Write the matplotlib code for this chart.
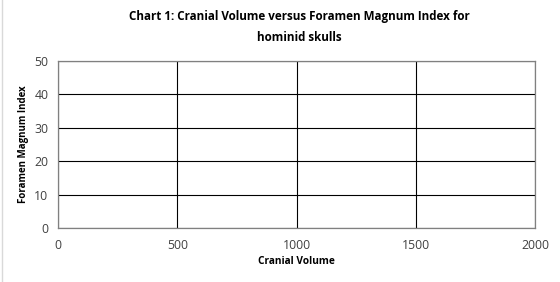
import matplotlib.pyplot as plt

# the chart is a blank template: no points plotted yet
cranial_volume = []
foramen_index = []
x_ticks = [0, 500, 1000, 1500, 2000]
y_ticks = [0, 10, 20, 30, 40, 50]

plt.rcParams['font.family'] = ['Open Sans', 'DejaVu Sans']

fig = plt.figure(figsize=(5.6, 2.82), dpi=100)
ax = fig.add_axes([0.1036, 0.1915, 0.8518, 0.5922])
ax.scatter(cranial_volume, foramen_index, color='#4472C4')

ax.set_xlim(0, 2000)
ax.set_ylim(0, 50)
ax.set_xticks(x_ticks)
ax.set_yticks(y_ticks)
ax.grid(True, color='#000000', linewidth=0.8)
ax.set_axisbelow(True)
for s in ax.spines.values():
    s.set_color('#808080')
    s.set_linewidth(0.9)
ax.tick_params(length=0, labelsize=8.8, colors='#404040')
ax.tick_params(axis='x', pad=8)
ax.tick_params(axis='y', pad=7)

ax.set_xlabel('Cranial Volume', fontsize=7.3, fontweight='bold', labelpad=3)
ax.set_ylabel('Foramen Magnum Index', fontsize=7, fontweight='bold', labelpad=4)
fig.suptitle('Chart 1: Cranial Volume versus Foramen Magnum Index for\nhominid skulls',
             x=0.535, y=0.965, fontsize=8.4, fontweight='bold', linespacing=1.85)

fig.add_artist(plt.Line2D([0.004, 0.004], [0, 1], color='#d9d9d9', linewidth=1, transform=fig.transFigure))

fig.savefig('out.png', dpi=100)
